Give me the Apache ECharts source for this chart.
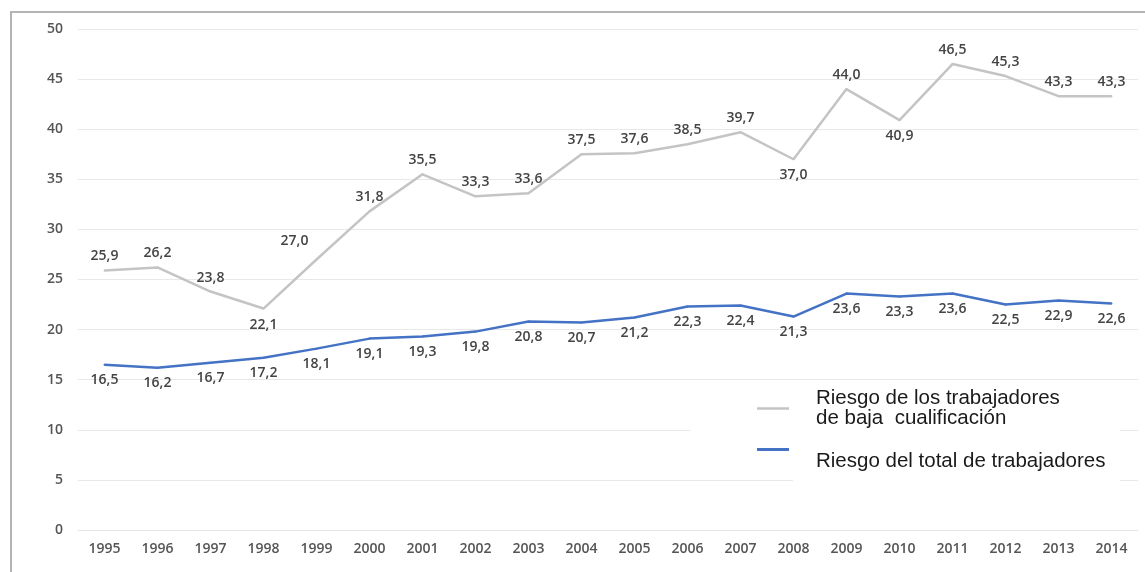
<!DOCTYPE html>
<html>
<head>
<meta charset="utf-8">
<script src="https://cdn.jsdelivr.net/npm/echarts@6/dist/echarts.min.js"></script>
<style>
html,body{margin:0;padding:0;background:#fff;}
#chart{width:1145px;height:572px;}
</style>
</head>
<body>
<div id="chart"></div>
<script>
const years = ['1995','1996','1997','1998','1999','2000','2001','2002','2003','2004','2005','2006','2007','2008','2009','2010','2011','2012','2013','2014'];
const lowSkilled = [25.9, 26.2, 23.8, 22.1, 27.0, 31.8, 35.5, 33.3, 33.6, 37.5, 37.6, 38.5, 39.7, 37.0, 44.0, 40.9, 46.5, 45.3, 43.3, 43.3];
const allWorkers = [16.5, 16.2, 16.7, 17.2, 18.1, 19.1, 19.3, 19.8, 20.8, 20.7, 21.2, 22.3, 22.4, 21.3, 23.6, 23.3, 23.6, 22.5, 22.9, 22.6];
const nameLow = 'Riesgo de los trabajadores\nde baja  cualificación';
const nameAll = 'Riesgo del total de trabajadores';

// label placement tweaks (style, not data)
const lowBelow = [3, 13, 15];
const lowLeft = [4];

const fmt = v => v.toFixed(1).replace('.', ',');

const lowData = lowSkilled.map((v, i) => {
  const d = { value: v };
  if (lowBelow.includes(i)) d.label = { position: 'bottom', distance: 8 };
  if (lowLeft.includes(i)) d.label = { position: 'top', offset: [-22, -4] };
  return d;
});

const chart = echarts.init(document.getElementById('chart'));
const labelStyle = { fontFamily: 'Open Sans', fontSize: 14, fontWeight: 600, color: '#444' };
const legendFont = { fontFamily: 'Liberation Sans', fontSize: 20.5, lineHeight: 20, color: '#1a1a1a' };

chart.setOption({
  animation: false,
  backgroundColor: '#fff',
  grid: { left: 78, right: 7, top: 29, bottom: 42 },
  xAxis: {
    type: 'category',
    data: years,
    boundaryGap: true,
    axisLine: { show: true, lineStyle: { color: '#e6e6e6', width: 1 } },
    axisTick: { show: false },
    axisLabel: { fontFamily: 'Open Sans', fontSize: 14, fontWeight: 600, color: '#555', margin: 12 }
  },
  yAxis: {
    type: 'value',
    min: 0, max: 50, interval: 5,
    axisLine: { show: false },
    axisTick: { show: false },
    splitLine: { lineStyle: { color: '#e8e8e8', width: 1 } },
    axisLabel: { fontFamily: 'Open Sans', fontSize: 14, fontWeight: 600, color: '#555', margin: 15 }
  },
  legend: [
    {
      data: [nameLow], left: 757, top: 388, padding: 0,
      icon: 'rect', itemWidth: 32, itemHeight: 2.5,
      textStyle: Object.assign({ padding: [0, 0, 0, 22] }, legendFont)
    },
    {
      data: [nameAll], left: 757, top: 427, padding: 0,
      icon: 'rect', itemWidth: 32, itemHeight: 3,
      formatter: name => '{a|' + name + '}',
      textStyle: Object.assign({
        rich: { a: Object.assign({ padding: [24, 0, 0, 22] }, legendFont) }
      }, legendFont)
    }
  ],
  graphic: [
    { type: 'rect', z: 1, shape: { x: 690, y: 386, width: 430, height: 84 }, style: { fill: '#fff' } },
    { type: 'rect', z: 1, shape: { x: 793, y: 470, width: 327, height: 20 }, style: { fill: '#fff' } },
    { type: 'rect', z: 10, shape: { x: 11, y: 12, width: 1140, height: 570 }, style: { fill: null, stroke: '#b4b4b4', lineWidth: 2 } }
  ],
  series: [
    {
      name: nameLow,
      type: 'line',
      data: lowData,
      symbol: 'circle', symbolSize: 2,
      lineStyle: { color: '#c4c4c4', width: 2.5 },
      itemStyle: { color: '#c4c4c4' },
      label: Object.assign({ show: true, position: 'top', distance: 6, formatter: p => fmt(p.value) }, labelStyle),
      z: 3
    },
    {
      name: nameAll,
      type: 'line',
      data: allWorkers,
      symbol: 'circle', symbolSize: 2,
      lineStyle: { color: '#4472c4', width: 2.5 },
      itemStyle: { color: '#4472c4' },
      label: Object.assign({ show: true, position: 'bottom', distance: 7, formatter: p => fmt(p.value) }, labelStyle),
      z: 3
    }
  ]
});
</script>
</body>
</html>
